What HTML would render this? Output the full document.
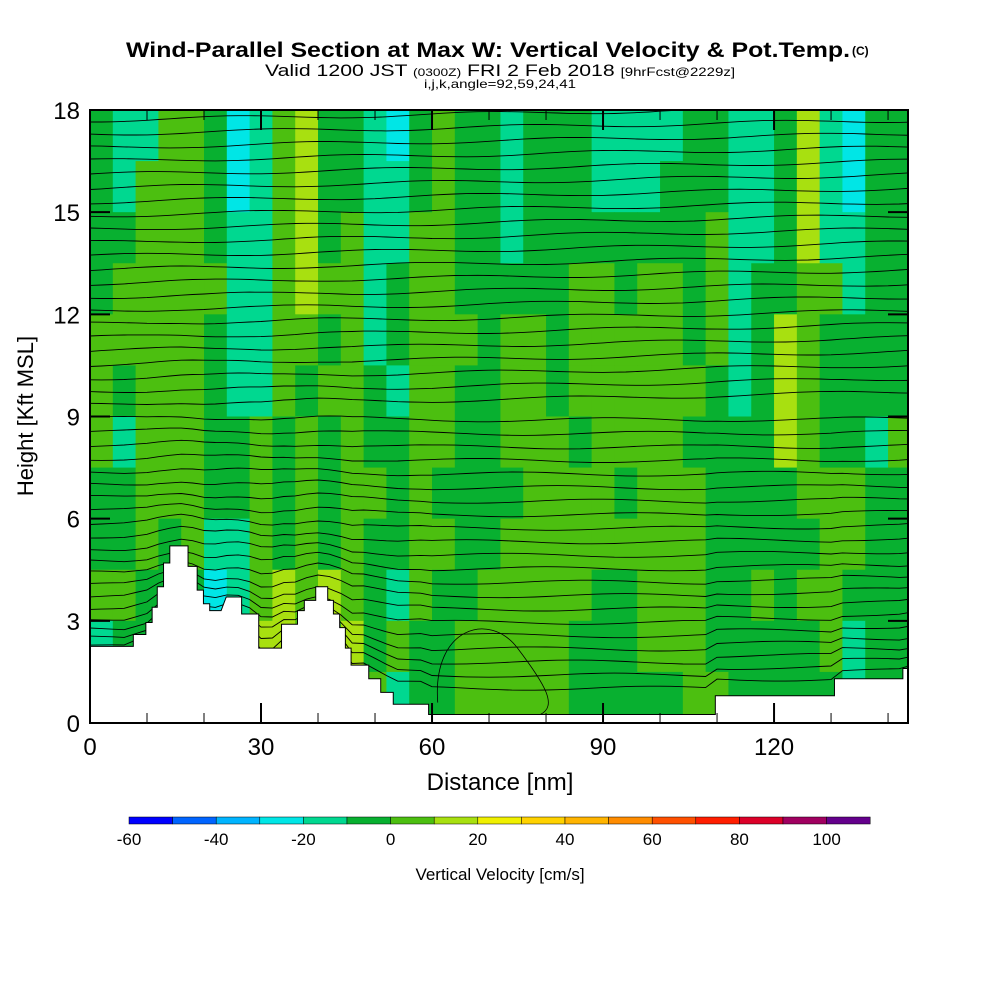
<!DOCTYPE html>
<html><head><meta charset="utf-8"><style>
body{margin:0;background:#fff;width:1000px;height:1000px;overflow:hidden}
svg{font-family:"Liberation Sans",sans-serif}
</style></head><body>
<svg id="chart" width="1000" height="1000">
<defs><clipPath id="pc"><rect x="90" y="110" width="818" height="613"/></clipPath></defs>
<text x="126" y="57" font-size="21" font-weight="bold" textLength="724" lengthAdjust="spacingAndGlyphs">Wind-Parallel Section at Max W: Vertical Velocity &amp; Pot.Temp.</text>
<text x="852" y="55" font-size="12" font-weight="bold">(C)</text>
<text x="265" y="76" font-size="17" textLength="470" lengthAdjust="spacingAndGlyphs">Valid 1200 JST <tspan font-size="11">(0300Z)</tspan> FRI 2 Feb 2018 <tspan font-size="12">[9hrFcst@2229z]</tspan></text>
<text x="424" y="88" font-size="12" textLength="152" lengthAdjust="spacingAndGlyphs">i,j,k,angle=92,59,24,41</text>
<g clip-path="url(#pc)">
<g id="field"></g>
<g id="contours"></g>
<g id="terrain"></g>
</g>
<rect x="90" y="110" width="818" height="613" fill="none" stroke="#000" stroke-width="2"/>
<g id="axes"></g>
<text x="500" y="790" text-anchor="middle" font-size="24">Distance [nm]</text>
<text x="33" y="416" text-anchor="middle" font-size="22" transform="rotate(-90,33,416)">Height [Kft MSL]</text>
<g id="cbar"></g>
<text x="500" y="880" text-anchor="middle" font-size="17">Vertical Velocity [cm/s]</text>
</svg>
<script>
const xTicks=[0,30,60,90,120];
const yTicks=[0,3,6,9,12,15,18];
const cbarLevels=[-60,-50,-40,-30,-20,-10,0,10,20,30,40,50,60,70,80,90,100,110];
const cbarColors=["#0000ff","#0064ff","#00b4ff","#00e6e6","#00d890","#08b030","#4cbf10","#a8e010","#f0f000","#ffd200","#ffb400","#ff8c00","#ff5000","#ff1e00","#dc0028","#a00060","#64008c"];
const cbarLabels=[-60,-40,-20,0,20,40,60,80,100];
const codeVal={c:-25,t:-15,g:-5,l:5,y:15};
const wRows=[
"gttllgctlyggtcglggtgggttttggttgytcgg",
"gtlllgctlyggttglggtgggtttgggttgytcgg",
"gglllgttlyglttllggtgggggggglttgyttgg",
"glllllttlylltgllgggggllgllgltgglltgg",
"lllllgttllgltglllgllglllllgltgylgggg",
"lglllgttlgllgtllggllgllllllgtgylgggg",
"ltlllgglglglggllgglllgllllggggylggtl",
"gglllgglglgllglggggllllglllgggglllgg",
"gglglttlglglggllgglllllllllgggggllgg",
"llgggctlylylgtlgglllllgglllgglgllggg",
"tgggggyyylgyglgglllllggglllgggggltgg",
"ggggggggggggltgglllllgggggllgggggtgg"];
const terrainX=[0,7.6,7.6,9.8,9.8,10.9,10.9,11.8,11.8,12.9,12.9,14,14,17.2,17.2,18.8,18.8,19.9,19.9,21,21,23,23.9,26.6,26.6,29.6,29.6,33.6,33.6,36.4,36.4,37.6,37.6,39.6,39.6,41.7,41.7,42.7,42.7,43.8,43.8,44.8,44.8,45.8,45.8,48.9,48.9,51,51,53.2,53.2,59.4,59.4,60.5,60.5,109.7,109.7,130.6,130.6,142.6,142.6,143.5];
const terrainH=[2.25,2.25,2.6,2.6,2.95,2.95,3.4,3.4,4.0,4.0,4.7,4.7,5.2,5.2,4.6,4.6,3.9,3.9,3.5,3.5,3.3,3.3,3.7,3.7,3.2,3.2,2.2,2.2,2.9,2.9,3.3,3.3,3.6,3.6,4.0,4.0,3.6,3.6,3.2,3.2,2.8,2.8,2.2,2.2,1.7,1.7,1.3,1.3,0.9,0.9,0.55,0.55,0.25,0.25,0.25,0.25,0.8,0.8,1.3,1.3,1.6,1.6];
const thetaH=[0.9,1.3,1.7,2.1,2.5,2.9,3.3,3.7,4.1,4.5,4.9,5.3,5.7,6.1,6.5,6.9,7.3,7.7,8.1,8.5,8.9,9.3,9.7,10.1,10.5,10.9,11.3,11.7,12.1,12.5,12.9,13.3,13.7,14.1,14.5,14.9,15.3,15.7,16.1,16.5,16.9,17.3,17.7];
const NS="http://www.w3.org/2000/svg";
const X=v=>90+v*818/143.5, Y=h=>723-h*613/18;
function col(v){for(let i=0;i<cbarColors.length;i++)if(v<cbarLevels[i+1])return cbarColors[i];return cbarColors[cbarColors.length-1];}
function mk(t,a,p){const e=document.createElementNS(NS,t);for(const k in a)e.setAttribute(k,a[k]);p.appendChild(e);return e;}
const field=document.getElementById('field');
wRows.forEach((r,ri)=>{for(let ci=0;ci<r.length;ci++){const v=codeVal[r[ci]];
const e=mk('rect',{x:X(ci*4),y:Y(18-ri*1.5),width:X(ci*4+4)-X(ci*4)+0.5,height:Y(0)-Y(1.5)+0.5,fill:col(v)},field);

}});
function terr(x){for(let i=0;i<terrainX.length-1;i++)if(x>=terrainX[i]&&x<=terrainX[i+1]){const t=(x-terrainX[i])/((terrainX[i+1]-terrainX[i])||1);return terrainH[i]+t*(terrainH[i+1]-terrainH[i]);}return 1.5;}
const cg=document.getElementById('contours');
thetaH.forEach((h,i)=>{let pts=[];for(let x=0;x<=144;x+=2){const b=terr(x)*Math.exp(-h/2.5)*0.7+0.06*Math.sin(x/7+i)+(h>9?(x/143.5)*0.4:0);pts.push(X(x).toFixed(1)+','+Y(Math.min(18.5,h+b)).toFixed(1));}
const e=mk('polyline',{points:pts.join(' '),fill:'none',stroke:'#000','stroke-width':0.9},cg);

});
const cl=mk('path',{d:`M${X(61)},${Y(0.6)} C${X(60)},${Y(2.8)} ${X(70)},${Y(3.3)} ${X(75)},${Y(2.2)} S${X(82)},${Y(0.5)} ${X(79)},${Y(0.25)}`,fill:'none',stroke:'#000','stroke-width':0.8},cg);


let tp=[];terrainX.forEach((x,i)=>tp.push(X(x)+','+Y(terrainH[i])));tp.push(X(143.5)+','+Y(0),X(0)+','+Y(0));
const tr=mk('polygon',{points:tp.join(' '),fill:'#fff',stroke:'#000','stroke-width':1},document.getElementById('terrain'));


const ax=document.getElementById('axes');
xTicks.forEach(t=>{mk('line',{x1:X(t),y1:723,x2:X(t),y2:703,stroke:'#000','stroke-width':2},ax);mk('line',{x1:X(t),y1:110,x2:X(t),y2:130,stroke:'#000','stroke-width':2},ax);
const e=mk('text',{x:X(t),y:755,'text-anchor':'middle','font-size':24},ax);e.textContent=t;

});
for(let t=10;t<144;t+=10){mk('line',{x1:X(t),y1:723,x2:X(t),y2:713,stroke:'#000'},ax);mk('line',{x1:X(t),y1:110,x2:X(t),y2:120,stroke:'#000'},ax);}
yTicks.forEach(t=>{mk('line',{x1:90,y1:Y(t),x2:110,y2:Y(t),stroke:'#000','stroke-width':2},ax);mk('line',{x1:908,y1:Y(t),x2:888,y2:Y(t),stroke:'#000','stroke-width':2},ax);
const e=mk('text',{x:80,y:Y(t)+9,'text-anchor':'end','font-size':24},ax);e.textContent=t;

});
const cb=document.getElementById('cbar');
const cx=v=>129+(v+60)*43.6/10;
cbarColors.forEach((c,i)=>{const e=mk('rect',{x:cx(cbarLevels[i]),y:817,width:43.6,height:7,fill:c,stroke:'#000','stroke-width':0.5},cb);

});
cbarLabels.forEach(v=>{const e=mk('text',{x:cx(v),y:845,'text-anchor':'middle','font-size':17},cb);e.textContent=v;

});
</script>
</body></html>
